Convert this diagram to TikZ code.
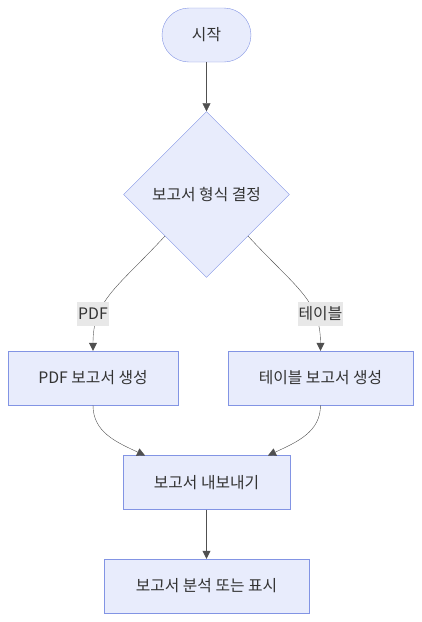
\documentclass[tikz,border=0pt]{standalone}
\usepackage{fontspec}
\setmainfont{Noto Sans CJK KR}
\usepackage{tikz}
\usetikzlibrary{shapes.geometric, arrows.meta}
\usetikzlibrary{positioning}
\definecolor{nodefill}{RGB}{232,236,252}
\definecolor{nodeline}{RGB}{130,148,228}
\definecolor{edgeline}{RGB}{80,80,80}
\definecolor{labelfill}{RGB}{232,232,232}
\tikzstyle{box} = [rectangle, minimum height = 54, fill = nodefill,
  draw = nodeline, text centered, text = black!80]
\tikzstyle{term} = [
  rectangle, rounded corners = 27,
  minimum width = 89, minimum height = 54,
  fill = nodefill, draw = nodeline, text centered, text = black!80
]
\tikzstyle{choice} = [
  diamond, aspect = 1, minimum size = 166, inner sep = 0,
  fill = nodefill, draw = nodeline, text centered, text = black!80
]
\tikzstyle{tag} = [fill = labelfill, inner xsep = 1, minimum height = 24,
  text = black!80]
\tikzstyle{flow} = [draw = edgeline, ->]

\begin{document}
\begin{tikzpicture}[x = 1pt, y = -1pt, font = \fontsize{15.8}{18}\selectfont,
    >={Triangle[length = 8pt, width = 8pt]}]
      \useasboundingbox (0, 0) rectangle (422, 622);
      % start
      \node [term] (start) at (206.5, 35) {시작};
      % decision
      \node [choice] (format) at (206.5, 194.5) {보고서 형식 결정};
      % branches
      \node [box, minimum width = 170] (pdf) at (93, 378) {PDF 보고서 생성};
      \node [box, minimum width = 185] (table) at (320.5, 378) {테이블 보고서 생성};
      % merge
      \node [box, minimum width = 167] (export) at (206.5, 482.5) {보고서 내보내기};
      \node [box, minimum width = 205] (show) at (206.5, 586) {보고서 분석 또는 표시};

      \coordinate (export-l) at (145, 455.5);
      \coordinate (export-r) at (268, 455.5);

      \draw [flow] (start) -- (format);
      \draw [flow] (format.south west) .. controls (118, 287) and (93, 300) .. (pdf.north);
      \draw [flow] (format.south east) .. controls (295, 287) and (320.5, 300) .. (table.north);
      \draw [flow] (pdf.south) .. controls (93, 432) and (116, 442) .. (export-l);
      \draw [flow] (table.south) .. controls (320.5, 432) and (297, 442) .. (export-r);
      \draw [flow] (export) -- (show);

      \node [tag] (tag-pdf) at (93, 314) {PDF};
      \node [tag] (tag-table) at (320.5, 314) {테이블};
    \end{tikzpicture}
\end{document}
